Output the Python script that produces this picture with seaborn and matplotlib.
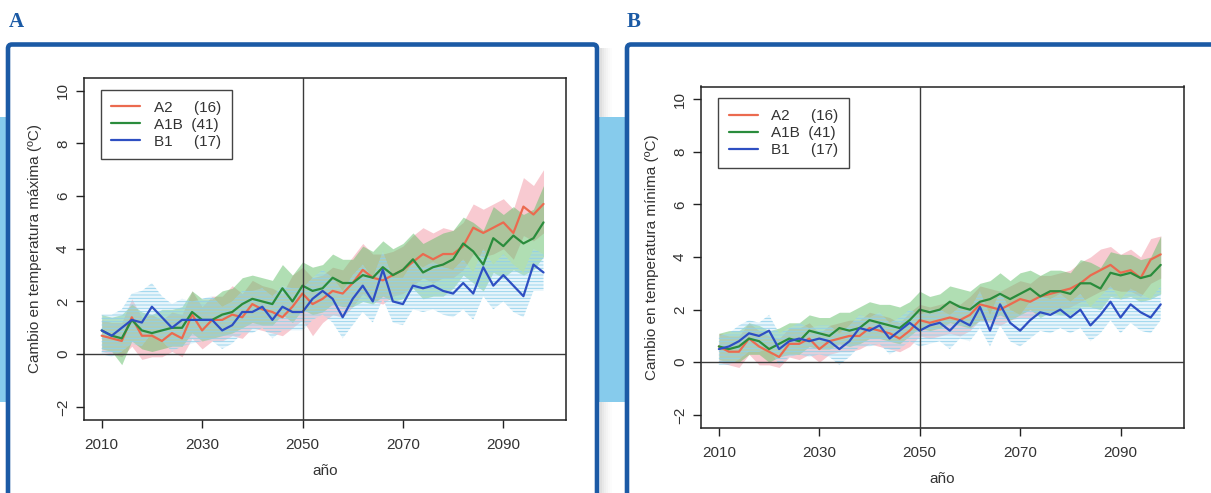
import numpy as np
import pandas as pd
import seaborn as sns
import matplotlib.pyplot as plt
from matplotlib.patches import Rectangle, FancyBboxPatch
from matplotlib.lines import Line2D

# Datos (cada 2 anios) ########################################################

anios = list(range(2010, 2099, 2))

# A: temperatura maxima
a_A2_media = [0.7, 0.6, 0.5, 1.4, 0.7, 0.7, 0.5, 0.8, 0.6, 1.5,
              0.9, 1.3, 1.3, 1.5, 1.4, 1.9, 1.7, 1.6, 1.4, 1.8,
              2.3, 1.9, 2.1, 2.4, 2.3, 2.7, 3.2, 2.9, 2.8, 3.0,
              3.2, 3.5, 3.8, 3.6, 3.8, 3.8, 4.1, 4.8, 4.6, 4.8,
              5.0, 4.6, 5.6, 5.3, 5.7]
a_A2_inf = [0.1, 0.0, -0.1, 0.3, -0.2, -0.1, -0.1, 0.1, -0.1, 0.6,
            0.2, 0.5, 0.5, 0.7, 0.6, 1.0, 0.9, 0.8, 0.7, 1.0,
            1.3, 0.7, 1.2, 1.5, 1.4, 1.8, 2.3, 2.0, 1.9, 2.2,
            2.3, 2.6, 2.9, 2.7, 2.9, 2.9, 3.2, 3.8, 3.7, 3.8,
            4.0, 3.6, 4.5, 4.3, 4.6]
a_A2_sup = [1.3, 1.2, 1.2, 2.1, 1.4, 1.5, 1.3, 1.6, 1.5, 2.4,
            1.8, 2.2, 2.2, 2.6, 2.3, 2.8, 2.6, 2.5, 2.3, 3.0,
            3.3, 2.9, 3.0, 3.3, 3.2, 3.7, 4.2, 3.8, 3.8, 3.9,
            4.1, 4.5, 4.8, 4.6, 4.8, 4.7, 5.0, 5.7, 5.5, 5.7,
            5.9, 5.5, 6.7, 6.4, 7.0]
a_A1B_media = [0.9, 0.7, 0.6, 1.3, 0.9, 0.8, 0.9, 1.0, 1.0, 1.6,
               1.3, 1.3, 1.5, 1.6, 1.9, 2.1, 2.0, 1.9, 2.5, 2.0,
               2.6, 2.4, 2.5, 2.9, 2.7, 2.7, 3.0, 2.9, 3.3, 3.0,
               3.2, 3.6, 3.1, 3.3, 3.4, 3.6, 4.2, 3.9, 3.4, 4.4,
               4.1, 4.5, 4.2, 4.4, 5.0]
a_A1B_inf = [0.2, 0.1, -0.4, 0.5, 0.2, 0.1, 0.2, 0.3, 0.3, 0.8,
             0.5, 0.6, 0.7, 0.8, 1.0, 1.2, 1.1, 1.1, 1.5, 1.2,
             1.7, 1.5, 1.6, 1.9, 1.8, 1.8, 2.0, 1.9, 2.2, 2.0,
             2.1, 2.5, 2.1, 2.2, 2.2, 2.5, 3.0, 2.7, 2.4, 3.1,
             2.9, 3.2, 3.0, 3.2, 3.7]
a_A1B_sup = [1.5, 1.4, 1.5, 1.9, 1.6, 1.5, 1.7, 1.7, 1.8, 2.4,
             2.1, 2.1, 2.4, 2.5, 2.9, 3.0, 2.9, 2.8, 3.4, 3.0,
             3.5, 3.3, 3.4, 3.8, 3.6, 3.6, 4.1, 3.9, 4.3, 4.0,
             4.2, 4.6, 4.2, 4.4, 4.6, 4.7, 5.2, 5.0, 4.7, 5.6,
             5.3, 5.6, 5.3, 5.5, 6.4]
a_B1_media = [0.9, 0.7, 1.0, 1.3, 1.2, 1.8, 1.4, 1.0, 1.3, 1.3,
              1.3, 1.3, 0.9, 1.1, 1.6, 1.6, 1.8, 1.3, 1.8, 1.6,
              1.6, 2.1, 2.4, 2.1, 1.4, 2.1, 2.6, 2.0, 3.2, 2.0,
              1.9, 2.6, 2.5, 2.6, 2.4, 2.3, 2.7, 2.3, 3.3, 2.6,
              3.0, 2.6, 2.2, 3.4, 3.1]
a_B1_inf = [0.0, -0.1, 0.1, 0.4, 0.3, 0.8, 0.5, 0.1, 0.3, 0.4,
            0.5, 0.5, 0.2, 0.4, 0.8, 0.8, 1.0, 0.6, 0.9, 0.9,
            0.9, 1.3, 1.5, 1.2, 0.6, 1.1, 1.6, 1.2, 2.1, 1.2,
            1.1, 1.7, 1.6, 1.7, 1.5, 1.4, 1.7, 1.3, 2.2, 1.7,
            2.0, 1.6, 1.4, 2.4, 2.4]
a_B1_sup = [1.5, 1.5, 1.7, 2.3, 2.4, 2.7, 2.2, 1.9, 2.1, 2.0,
            2.1, 2.2, 1.8, 2.0, 2.4, 2.4, 2.5, 2.2, 2.6, 2.5,
            2.5, 2.9, 3.2, 2.9, 2.4, 3.0, 3.4, 2.9, 3.9, 2.9,
            2.9, 3.5, 3.3, 3.5, 3.3, 3.2, 3.6, 3.1, 4.0, 3.4,
            3.8, 3.4, 3.1, 4.0, 3.8]

# B: temperatura minima
b_A2_media = [0.6, 0.4, 0.4, 0.9, 0.6, 0.4, 0.2, 0.7, 0.7, 0.9,
              0.5, 0.8, 0.9, 1.0, 1.0, 1.3, 1.2, 1.1, 0.9, 1.2,
              1.6, 1.5, 1.6, 1.7, 1.6, 1.8, 2.2, 2.1, 2.0, 2.2,
              2.4, 2.3, 2.5, 2.6, 2.7, 2.8, 3.0, 3.3, 3.5, 3.7,
              3.4, 3.5, 3.2, 3.9, 4.1]
b_A2_inf = [0.0, -0.1, -0.2, 0.3, -0.1, -0.1, -0.2, 0.2, 0.1, 0.3,
            0.0, 0.3, 0.4, 0.4, 0.5, 0.7, 0.6, 0.5, 0.4, 0.6,
            1.0, 0.9, 1.0, 1.1, 1.0, 1.2, 1.6, 1.5, 1.4, 1.6,
            1.7, 1.7, 1.8, 1.9, 2.0, 2.1, 2.3, 2.5, 2.7, 2.8,
            2.7, 2.7, 2.5, 3.0, 3.2]
b_A2_sup = [1.1, 1.0, 1.0, 1.5, 1.2, 1.0, 0.9, 1.3, 1.3, 1.5,
            1.1, 1.4, 1.5, 1.6, 1.6, 1.9, 1.8, 1.7, 1.5, 1.9,
            2.2, 2.1, 2.2, 2.3, 2.2, 2.5, 2.9, 2.8, 2.7, 2.9,
            3.1, 3.0, 3.3, 3.3, 3.4, 3.5, 3.8, 4.0, 4.3, 4.4,
            4.1, 4.3, 4.0, 4.7, 4.8]
b_A1B_media = [0.6, 0.5, 0.6, 0.9, 0.8, 0.5, 0.7, 0.9, 0.8, 1.2,
               1.1, 1.0, 1.3, 1.2, 1.3, 1.6, 1.5, 1.4, 1.3, 1.6,
               2.0, 1.9, 2.0, 2.3, 2.1, 2.0, 2.3, 2.4, 2.6, 2.4,
               2.6, 2.8, 2.5, 2.7, 2.7, 2.6, 3.0, 3.0, 2.8, 3.4,
               3.3, 3.4, 3.2, 3.3, 3.7]
b_A1B_inf = [0.1, 0.0, 0.0, 0.3, 0.3, 0.0, 0.2, 0.3, 0.3, 0.6,
             0.5, 0.5, 0.7, 0.6, 0.7, 0.9, 0.9, 0.8, 0.7, 1.0,
             1.3, 1.2, 1.3, 1.5, 1.4, 1.3, 1.6, 1.6, 1.8, 1.6,
             1.8, 2.0, 1.7, 1.9, 1.8, 1.8, 2.1, 2.1, 2.0, 2.5,
             2.4, 2.5, 2.3, 2.4, 2.6]
b_A1B_sup = [1.1, 1.2, 1.2, 1.5, 1.4, 1.2, 1.3, 1.5, 1.5, 1.8,
             1.7, 1.7, 1.9, 1.9, 2.1, 2.3, 2.2, 2.2, 2.1, 2.3,
             2.7, 2.5, 2.6, 2.9, 2.8, 2.7, 3.0, 3.1, 3.4, 3.1,
             3.4, 3.5, 3.3, 3.5, 3.5, 3.4, 3.9, 3.8, 3.6, 4.2,
             4.1, 4.1, 3.9, 4.0, 4.8]
b_B1_media = [0.5, 0.6, 0.8, 1.1, 1.0, 1.2, 0.5, 0.8, 0.9, 0.8,
              0.9, 0.8, 0.5, 0.8, 1.3, 1.2, 1.4, 0.9, 1.2, 1.5,
              1.2, 1.4, 1.5, 1.2, 1.6, 1.4, 2.1, 1.2, 2.2, 1.5,
              1.2, 1.6, 1.9, 1.8, 2.0, 1.7, 2.0, 1.4, 1.8, 2.3,
              1.7, 2.2, 1.9, 1.7, 2.2]
b_B1_inf = [-0.1, -0.1, 0.1, 0.4, 0.4, 0.5, -0.1, 0.2, 0.3, 0.2,
            0.3, 0.2, -0.1, 0.2, 0.6, 0.6, 0.7, 0.3, 0.5, 0.8,
            0.6, 0.7, 0.8, 0.5, 0.9, 0.8, 1.3, 0.6, 1.4, 0.8,
            0.6, 0.9, 1.2, 1.1, 1.3, 1.1, 1.3, 0.8, 1.1, 1.6,
            1.1, 1.5, 1.2, 1.1, 1.6]
b_B1_sup = [1.0, 1.1, 1.4, 1.6, 1.5, 1.8, 1.1, 1.3, 1.5, 1.3,
            1.4, 1.4, 1.1, 1.4, 1.8, 1.7, 1.9, 1.5, 1.7, 2.0,
            1.8, 2.0, 2.0, 1.8, 2.1, 2.0, 2.7, 1.8, 2.7, 2.0,
            1.8, 2.3, 2.5, 2.4, 2.6, 2.3, 2.6, 2.1, 2.5, 2.9,
            2.4, 2.8, 2.6, 2.4, 2.9]

escenarios = ['A2', 'A1B', 'B1']
n_modelos = {'A2': 16, 'A1B': 41, 'B1': 17}
colores = {'A2': '#EB6A4F', 'A1B': '#2A8C3C', 'B1': '#2E4FC2'}

panel_a = {'A2': (a_A2_media, a_A2_inf, a_A2_sup),
           'A1B': (a_A1B_media, a_A1B_inf, a_A1B_sup),
           'B1': (a_B1_media, a_B1_inf, a_B1_sup)}
panel_b = {'A2': (b_A2_media, b_A2_inf, b_A2_sup),
           'A1B': (b_A1B_media, b_A1B_inf, b_A1B_sup),
           'B1': (b_B1_media, b_B1_inf, b_B1_sup)}

# Estilo ######################################################################

sns.set_style('ticks')
plt.rcParams['font.family'] = ['Liberation Sans', 'DejaVu Sans']
plt.rcParams['hatch.linewidth'] = 0.6
texto = '#333333'

W, H = 1211, 493
fig = plt.figure(figsize=(W / 100, H / 100), dpi=100)

# Fondo de la pagina (franja, marcos, letras) #################################

bg = fig.add_axes([0, 0, 1, 1])
bg.set_xlim(0, W)
bg.set_ylim(H, 0)
bg.axis('off')

for i, a in enumerate([0.22, 0.16, 0.11, 0.07, 0.04, 0.02]):
    bg.add_patch(Rectangle((600 + 2 * i, 48), 2, H, color='#707070',
                           alpha=a, lw=0, zorder=0.5))
bg.add_patch(Rectangle((0, 117), W, 285, color='#86CBEC', lw=0, zorder=1))

azul = '#1B5AA5'
for x0, ancho in [(8, 589), (627, 700)]:
    bg.add_patch(FancyBboxPatch((x0, 44.5), ancho, 500,
                                boxstyle='round,pad=0,rounding_size=4',
                                fc='white', ec=azul, lw=3.3, zorder=2))
for x0, letra in [(9, 'A'), (627, 'B')]:
    bg.text(x0, 27, letra, fontfamily='Liberation Serif', fontweight='bold',
            fontsize=15, color=azul, va='baseline', ha='left', zorder=3)

# Paneles #####################################################################

def dibuja_panel(rect, datos, ylabel):
    ax = fig.add_axes(rect)
    ax.set_facecolor('none')

    m, lo, hi = datos['A2']
    ax.fill_between(anios, lo, hi, facecolor='#F5AEB9', alpha=0.65, lw=0, zorder=1)
    m, lo, hi = datos['A1B']
    ax.fill_between(anios, lo, hi, facecolor='#62BF68', alpha=0.5, lw=0, zorder=2)
    m, lo, hi = datos['B1']
    ax.fill_between(anios, lo, hi, facecolor=(0.70, 0.88, 0.95, 0.3),
                    edgecolor='#8FD0EC', hatch='-----', lw=0, zorder=3)

    df = pd.concat([pd.DataFrame({'anio': anios, 'valor': datos[e][0],
                                  'escenario': e}) for e in escenarios],
                   ignore_index=True)
    sns.lineplot(data=df, x='anio', y='valor', hue='escenario',
                 hue_order=escenarios, palette=colores, linewidth=1.6,
                 legend=False, ax=ax, zorder=5)

    ax.axhline(0, color='#3a3a3a', lw=1, zorder=6)
    ax.axvline(2050, color='#3a3a3a', lw=1, zorder=6)

    ax.set_xlim(2006.44, 2102.56)
    ax.set_ylim(-2.48, 10.48)
    ax.set_xticks([2010, 2030, 2050, 2070, 2090])
    ax.set_yticks([-2, 0, 2, 4, 6, 8, 10])
    ax.tick_params(axis='both', length=6, width=1, color='#222222',
                   labelsize=11, labelcolor=texto)
    ax.tick_params(axis='x', pad=7)
    ax.tick_params(axis='y', pad=4, labelrotation=90)
    for lab in ax.get_yticklabels():
        lab.set_va('center')
    for s in ax.spines.values():
        s.set_color('#222222')
        s.set_linewidth(1.1)

    ax.set_xlabel('año', fontsize=11, color=texto, labelpad=9)
    ax.set_ylabel(ylabel, fontsize=11, color=texto, labelpad=10)

    handles = [Line2D([], [], color=colores[e], lw=1.6) for e in escenarios]
    etiquetas = ['A2     (%d)' % n_modelos['A2'],
                 'A1B  (%d)' % n_modelos['A1B'],
                 'B1     (%d)' % n_modelos['B1']]
    leg = ax.legend(handles, etiquetas, loc='upper left',
                    bbox_to_anchor=(0.035, 0.965), borderaxespad=0,
                    fontsize=11, handlelength=1.9, handletextpad=0.9,
                    labelspacing=0.2, borderpad=0.7, fancybox=False,
                    framealpha=1, edgecolor='#444444')
    leg.get_frame().set_linewidth(1)
    for t in leg.get_texts():
        t.set_color(texto)
    return ax


dibuja_panel([83.8 / W, (H - 419.5) / H, 482.6 / W, 341.5 / H], panel_a,
             'Cambio en temperatura máxima (ºC)')
dibuja_panel([701 / W, (H - 427.5) / H, 482.6 / W, 341 / H], panel_b,
             'Cambio en temperatura mínima (ºC)')

fig.savefig('out.png', dpi=100)
